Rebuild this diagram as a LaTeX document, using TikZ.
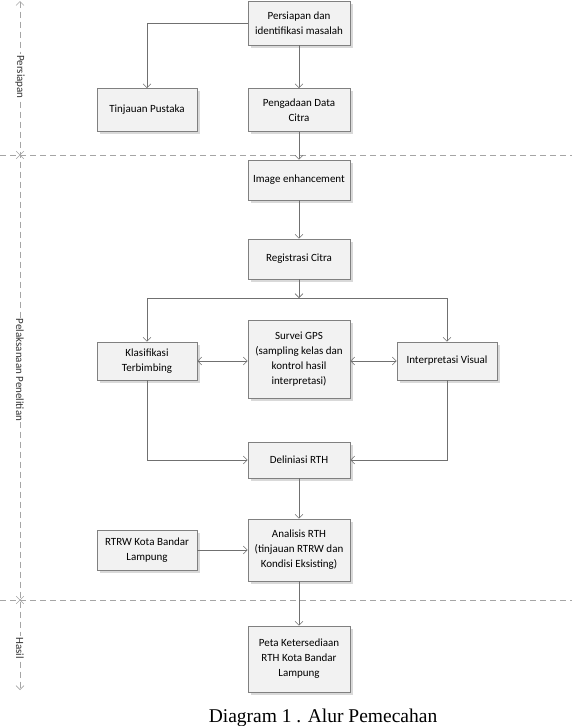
\documentclass[tikz,border=0pt]{standalone}
\usepackage{fontspec}
\setmainfont{Carlito}
\newfontfamily\capfont{Liberation Serif}
\usetikzlibrary{arrows.meta,shadows,shapes.misc}

\definecolor{cline}{RGB}{112,112,112}
\definecolor{cbox}{RGB}{242,242,242}
\definecolor{cframe}{RGB}{128,128,128}
\definecolor{clane}{RGB}{165,165,165}

\begin{document}
\begin{tikzpicture}[x=1pt, y=-1pt, font=\fontsize{11}{15}\selectfont,
  box/.style={draw=cframe, fill=cbox, align=center, inner sep=2pt,
              minimum width=102pt, minimum height=42pt, line width=0.6pt,
              drop shadow={shadow xshift=2.5pt, shadow yshift=-2.5pt,
                           fill=black!25, opacity=0.6}},
  sidebox/.style={box, minimum width=100pt},
  ar/.style={-{Straight Barb[length=4pt, width=8pt]}, cline, line width=0.6pt},
  dar/.style={{Straight Barb[length=4pt, width=8pt]}-{Straight Barb[length=4pt, width=8pt]},
              cline, line width=0.6pt},
  lane/.style={clane, line width=0.6pt, dash pattern=on 6pt off 4pt},
  lanelabel/.style={fill=white, rotate=-90, inner sep=1pt, text=black!80},
  lanecross/.style={cross out, draw=clane, line width=0.6pt, minimum size=7pt, inner sep=0pt},
]
\useasboundingbox (0,0) rectangle (576,726);

% --- swimlane frame ----------------------------------------------------
\draw[lane] (0,155) -- (572,155);
\draw[lane] (0,600) -- (572,600);
\draw[lane, {Straight Barb[length=4pt, width=8pt]}-{Straight Barb[length=4pt, width=8pt]}]
  (20,1) -- (20,690);
\node[lanecross] (x1) at (20,155) {};
\node[lanecross] (x2) at (20,600) {};
\node[lanelabel] (lp) at (20,77) {Persiapan};
\node[lanelabel] (ll) at (20,370) {Pelaksanaan Penelitian};
\node[lanelabel] (lh) at (20,648) {Hasil};

% --- persiapan ---------------------------------------------------------
\node[box, minimum height=44pt] (siap) at (299,23) {Persiapan dan\\identifikasi masalah};
\node[sidebox, minimum height=43pt] (tinj) at (147,110) {Tinjauan Pustaka};
\node[box, minimum height=43pt] (data) at (299,110) {Pengadaan Data\\Citra};

% --- pelaksanaan -------------------------------------------------------
\node[box, minimum height=40pt] (enh) at (299,180) {Image enhancement};
\node[box, minimum height=40pt] (reg) at (299,259) {Registrasi Citra};
\coordinate (split) at (299,298);
\node[sidebox, minimum height=38pt] (klas) at (147,361) {Klasifikasi\\Terbimbing};
\node[box, minimum height=78pt] (gps) at (299,359)
  {Survei GPS\\(sampling kelas dan\\kontrol hasil\\interpretasi)};
\node[sidebox, minimum height=38pt] (vis) at (447,361) {Interpretasi Visual};
\node[box, minimum height=36pt] (del) at (299,460) {Deliniasi RTH};
\node[sidebox, minimum height=40pt] (rtrw) at (147,550) {RTRW Kota Bandar\\Lampung};
\node[box, minimum height=62pt] (anal) at (299,550)
  {Analisis RTH\\(tinjauan RTRW dan\\Kondisi Eksisting)};

% --- hasil -------------------------------------------------------------
\node[box, minimum height=66pt] (peta) at (299,659)
  {Peta Ketersediaan\\RTH Kota Bandar\\Lampung};

\draw[ar] (siap.west) -| (tinj.north);
\draw[ar] (siap.south) -- (data.north);
\draw[ar] (data.south) -- (enh.north);
\draw[ar] (enh.south) -- (reg.north);
\draw[ar] (reg.south) -- (split);
\draw[ar] (split) -| (klas.north);
\draw[ar] (split) -| (vis.north);
\draw[dar] (klas.east) -- (klas.east -| gps.west);
\draw[dar] (gps.east |- vis.west) -- (vis.west);
\draw[ar] (klas.south) |- (del.west);
\draw[ar] (vis.south) |- (del.east);
\draw[ar] (del.south) -- (anal.north);
\draw[ar] (rtrw.east) -- (rtrw.east -| anal.west);
\draw[ar] (anal.south) -- (peta.north);

\node[anchor=base, font=\capfont\fontsize{19.5}{22}\selectfont] (cap) at (323,722)
  {Diagram 1 . Alur Pemecahan};
\end{tikzpicture}
\end{document}
